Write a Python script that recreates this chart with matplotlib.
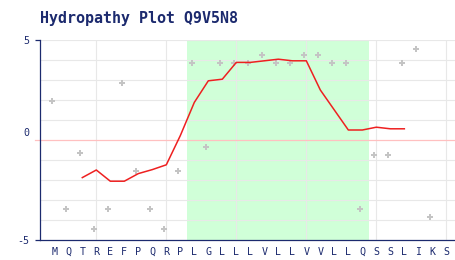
import numpy as np
import matplotlib
matplotlib.use("Agg")
import matplotlib.pyplot as plt
from matplotlib.transforms import ScaledTranslation

# ---- data ----
title = "Hydropathy Plot Q9V5N8"
residues = list("MQTREFPQRPLGLLLVLLVVLLQSSLIKS")
hydropathy = [1.9, -3.5, -0.7, -4.5, -3.5, 2.8, -1.6, -3.5, -4.5, -1.6,
              3.8, -0.4, 3.8, 3.8, 3.8, 4.2, 3.8, 3.8, 4.2, 4.2,
              3.8, 3.8, -3.5, -0.8, -0.8, 3.8, 4.5, -3.9, np.nan]
smooth_start = 2
smoothed = [-1.88, -1.50, -2.06, -2.06, -1.68, -1.48, -1.24, 0.22, 1.88, 2.96,
            3.04, 3.88, 3.88, 3.96, 4.04, 3.96, 3.96, 2.50, 1.50, 0.50,
            0.50, 0.64, 0.56, 0.56]
tm_region = (9.5, 22.5)
ytick_vals = [-5, 5]
ytick_labels = ["-5", "5"]
vgrid = [3, 8, 13, 18, 23, 28]
hgrid = [-4, -3, -2, -1, 1, 2, 3, 4, 5]

navy = "#1c2a6e"
W, H = 456, 260
fig = plt.figure(figsize=(W / 100, H / 100), dpi=100)
L, R, T, B = 40.3, 456, 40, 240
ax = fig.add_axes([L / W, 1 - B / H, (R - L) / W, (B - T) / H])

ax.set_xlim(-1, 28.69)
ax.set_ylim(-5, 5)

ax.axvspan(*tm_region, color="#d0ffd8", lw=0, zorder=0)
for g in hgrid:
    ax.axhline(g, color="#e8e8e8", lw=0.8, zorder=1)
for g in vgrid:
    ax.axvline(g, color="#e8e8e8", lw=0.8, zorder=1)
ax.axhline(0, xmin=-5 / (R - L), xmax=1, color="#ffc0c0", lw=0.9,
           zorder=2, clip_on=False)

x = np.arange(len(residues))
off = ScaledTranslation(-2 / 100, 1.5 / 100, fig.dpi_scale_trans)
ax.plot(x, hydropathy, linestyle="none", marker="P", ms=4.2,
        color="#c4c4c4", mec="#c4c4c4", mew=0, zorder=3,
        transform=ax.transData + off)

xs = np.arange(smooth_start, smooth_start + len(smoothed))
ax.plot(xs, smoothed, color="#ee2020", lw=1.1, zorder=4)

for s in ["top", "right"]:
    ax.spines[s].set_visible(False)
for s in ["left", "bottom"]:
    ax.spines[s].set_color(navy)
    ax.spines[s].set_linewidth(0.9)

ax.set_xticks(x)
ax.set_xticklabels(residues, family="DejaVu Sans Mono", fontsize=7.2, color=navy)
ax.tick_params(axis="x", length=0, pad=5)
ax.set_yticks(ytick_vals)
ax.set_yticklabels(ytick_labels, family="DejaVu Sans Mono", fontsize=7.2, color=navy)
ax.tick_params(axis="y", length=3.6, width=0.9, color=navy, pad=4)
ax.text(-1, 0, "0", transform=ax.transData + ScaledTranslation(-11 / 100, 6.5 / 100, fig.dpi_scale_trans),
        ha="right", va="center", family="DejaVu Sans Mono", fontsize=7.2, color=navy)

fig.text(40 / W, 1 - 18 / H, title, ha="left", va="center",
         family="DejaVu Sans Mono", fontweight="bold", fontsize=10.8, color=navy)

fig.savefig("out.png", dpi=100)
